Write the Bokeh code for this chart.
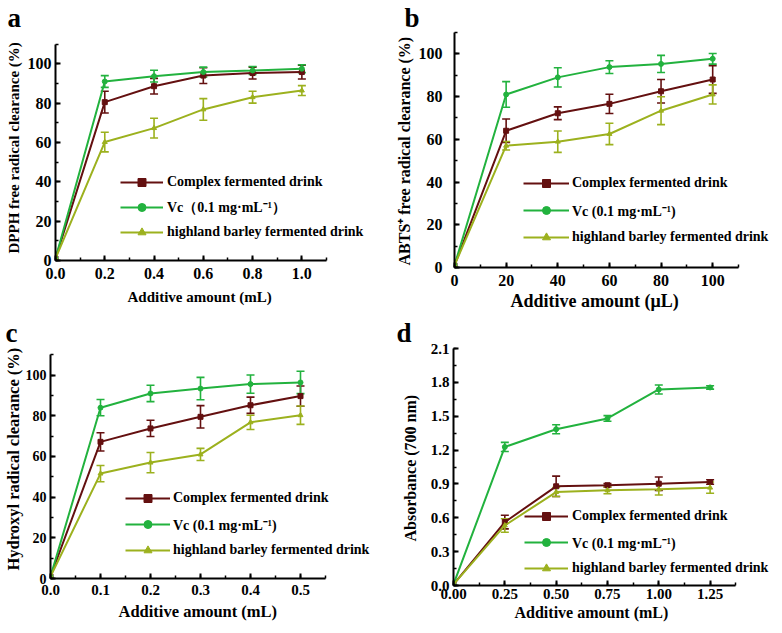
from bokeh.plotting import figure
from bokeh.models import (Range1d, SingleIntervalTicker, PrintfTickFormatter, Legend, LegendItem,
                          Title, Whisker, TeeHead, ColumnDataSource)
from bokeh.layouts import column, row
from bokeh.embed import file_html
from bokeh.resources import INLINE

FONT = "Liberation Serif"
C_COMPLEX = "#641010"
C_VC = "#22B23E"
C_BARLEY = "#9CB11E"

series_names = ["Complex fermented drink", "Vc (0.1 mg·mL⁻¹)", "highland barley fermented drink"]
series_names_a = ["Complex fermented drink", "Vc（0.1 mg·mL⁻¹）", "highland barley fermented drink"]

# ---- panel a: DPPH ----
a_x = [0.0, 0.2, 0.4, 0.6, 0.8, 1.0]
a_complex = [1.0, 80.5, 88.6, 94.0, 95.3, 95.8]
a_complex_err = [0.0, 5.5, 4.0, 4.0, 3.0, 3.5]
a_vc = [1.0, 91.0, 93.7, 95.8, 96.6, 97.5]
a_vc_err = [0.0, 3.0, 3.0, 2.5, 2.0, 2.0]
a_barley = [1.0, 60.2, 67.3, 76.8, 83.0, 86.4]
a_barley_err = [0.0, 5.0, 5.0, 5.5, 3.0, 2.5]

# ---- panel b: ABTS ----
b_x = [0, 20, 40, 60, 80, 100]
b_complex = [1.0, 64.0, 72.2, 76.6, 82.5, 88.0]
b_complex_err = [0.0, 5.5, 3.0, 4.5, 5.5, 6.5]
b_vc = [1.0, 81.0, 89.0, 93.8, 95.3, 97.7]
b_vc_err = [0.0, 6.0, 4.5, 3.0, 4.0, 2.5]
b_barley = [1.0, 57.0, 58.9, 62.5, 73.4, 81.0]
b_barley_err = [0.0, 2.0, 5.0, 5.0, 6.5, 4.5]

# ---- panel c: hydroxyl ----
c_x = [0.0, 0.1, 0.2, 0.3, 0.4, 0.5]
c_complex = [1.0, 67.2, 73.8, 79.5, 85.2, 89.7]
c_complex_err = [0.0, 4.5, 4.0, 5.5, 4.0, 5.0]
c_vc = [1.0, 84.0, 91.0, 93.4, 95.6, 96.4]
c_vc_err = [0.0, 4.0, 4.0, 5.5, 4.5, 5.5]
c_barley = [1.0, 51.6, 57.0, 61.0, 76.8, 80.3]
c_barley_err = [0.0, 4.0, 5.0, 3.0, 3.5, 4.5]

# ---- panel d: reducing power ----
d_x = [0.0, 0.25, 0.5, 0.75, 1.0, 1.25]
d_complex = [0.01, 0.562, 0.879, 0.888, 0.902, 0.917]
d_complex_err = [0.0, 0.06, 0.09, 0.015, 0.06, 0.02]
d_vc = [0.01, 1.228, 1.385, 1.48, 1.737, 1.755]
d_vc_err = [0.0, 0.04, 0.04, 0.025, 0.04, 0.015]
d_barley = [0.01, 0.532, 0.828, 0.843, 0.852, 0.867]
d_barley_err = [0.0, 0.06, 0.04, 0.03, 0.05, 0.05]


def make_panel(g, x, series, names, letter, xlabel, ylabel):
    W, H = g["size"]
    L, T, B = g["L"], g["T"], g["B"]
    p = figure(width=W, height=H, output_backend="svg", toolbar_location=None,
               x_range=Range1d(0, g["xend"]), y_range=Range1d(0, g["yend"]),
               min_border_left=L, min_border_right=0, min_border_top=T, min_border_bottom=B)
    if "frame_align" in p.properties():
        p.frame_align = False
    p.outline_line_color = None
    p.xgrid.visible = False
    p.ygrid.visible = False
    p.background_fill_color = "white"
    p.border_fill_color = "white"

    p.xaxis.ticker = SingleIntervalTicker(interval=g["xtick"], num_minor_ticks=2)
    p.yaxis.ticker = SingleIntervalTicker(interval=g["ytick"], num_minor_ticks=2)
    p.xaxis.formatter = PrintfTickFormatter(format=g["xfmt"])
    p.yaxis.formatter = PrintfTickFormatter(format=g["yfmt"])
    p.xaxis.bounds = g["xbounds"]
    p.yaxis.bounds = g["ybounds"]
    for ax in (p.xaxis[0], p.yaxis[0]):
        ax.axis_line_width = 2
        ax.axis_line_color = "black"
        ax.major_tick_line_width = 2
        ax.minor_tick_line_width = 1.5
        ax.major_tick_in = 5
        ax.major_tick_out = 0
        ax.minor_tick_in = 3
        ax.minor_tick_out = 0
        ax.major_label_text_font = FONT
        ax.major_label_text_font_style = "bold"
        ax.major_label_text_color = "black"
    p.xaxis.major_label_text_font_size = g["xtick_fs"]
    p.yaxis.major_label_text_font_size = g["ytick_fs"]
    p.xaxis.major_label_standoff = g["xtick_so"]
    p.yaxis.major_label_standoff = g["ytick_so"]

    # panel letter
    p.title.text = letter
    p.title.align = "left"
    p.title.offset = g["letter_off"]
    p.title.standoff = 0
    p.title.vertical_align = "bottom"
    p.title.text_font = FONT
    p.title.text_font_style = "bold"
    p.title.text_font_size = "27px"
    p.title.text_color = "black"

    # axis titles
    p.add_layout(Title(text=xlabel, align="left", offset=g["xlab_off"], standoff=g["xlab_so"],
                       vertical_align="bottom", text_font=FONT, text_font_style="bold",
                       text_font_size=g["xlab_fs"], text_color="black"), "below")
    p.add_layout(Title(text=ylabel, align="left", offset=g["ylab_off"], standoff=g["ylab_so"],
                       vertical_align="bottom", text_font=FONT, text_font_style="bold",
                       text_font_size=g["ylab_fs"], text_color="black"), "left")

    items = []
    for (ys, es, color, marker), name in zip(series, names):
        src = ColumnDataSource(dict(base=[xv for xv, e in zip(x, es) if e > 0],
                                    upper=[y + e for y, e in zip(ys, es) if e > 0],
                                    lower=[y - e for y, e in zip(ys, es) if e > 0]))
        w = Whisker(source=src, base="base", upper="upper", lower="lower", dimension="height",
                    line_color=color, line_width=1.6,
                    upper_head=TeeHead(size=8, line_color=color, line_width=1.6),
                    lower_head=TeeHead(size=8, line_color=color, line_width=1.6))
        p.add_layout(w)
        lr = p.line(x, ys, line_color=color, line_width=2)
        sr = p.scatter(x, ys, marker=marker, size=5, fill_color=color, line_color=color)
        items.append(LegendItem(label=name, renderers=[lr, sr]))

    lx, ly, gw, sp, lso = g["legend"]
    leg = Legend(items=items, location=(lx, ly), glyph_width=gw, glyph_height=20,
                 label_height=20, spacing=sp, label_standoff=lso, padding=0, margin=0,
                 border_line_color=None, background_fill_alpha=0,
                 label_text_font=FONT, label_text_font_style="bold",
                 label_text_font_size="14px", label_text_color="black")
    p.add_layout(leg)
    return p


def ser(c, ce, v, ve, b, be):
    return [(c, ce, C_COMPLEX, "square"), (v, ve, C_VC, "circle"), (b, be, C_BARLEY, "triangle")]


geo_a = dict(size=(391, 315), L=55, T=32, B=55, xend=1.3638, yend=115.9,
             xbounds=(0, 1.1), ybounds=(0, 110), xtick=0.2, ytick=20, xfmt="%.1f", yfmt="%d",
             xtick_fs="16px", ytick_fs="16px", xtick_so=7, ytick_so=4,
             letter_off=-48, xlab_off=72, xlab_so=11, xlab_fs="15px",
             ylab_off=7, ylab_so=5, ylab_fs="15px", legend=(65, 18, 43, 5, 4))
geo_b = dict(size=(383, 315), L=63, T=32, B=48, xend=123.94, yend=110.0,
             xbounds=(0, 110), ybounds=(0, 110), xtick=20, ytick=20, xfmt="%d", yfmt="%d",
             xtick_fs="16px", ytick_fs="16px", xtick_so=7, ytick_so=12,
             letter_off=-50, xlab_off=56, xlab_so=1, xlab_fs="18px",
             ylab_off=2, ylab_so=5, ylab_fs="16px", legend=(69, 20, 46, 7, 3))
geo_c = dict(size=(391, 310), L=50, T=32, B=47, xend=0.682, yend=113.6,
             xbounds=(0, 0.55), ybounds=(0, 110), xtick=0.1, ytick=20, xfmt="%.1f", yfmt="%d",
             xtick_fs="15px", ytick_fs="14px", xtick_so=6, ytick_so=4,
             letter_off=-45, xlab_off=68, xlab_so=4, xlab_fs="16.5px",
             ylab_off=8, ylab_so=0, ylab_fs="16.5px", legend=(75, 18, 45, 6, 3))
geo_d = dict(size=(383, 310), L=62, T=32, B=40, xend=1.5637, yend=2.109,
             xbounds=(0, 1.375), ybounds=(0, 2.1), xtick=0.25, ytick=0.3, xfmt="%.2f", yfmt="%.1f",
             xtick_fs="15px", ytick_fs="15px", xtick_so=3, ytick_so=4,
             letter_off=-57, xlab_off=61, xlab_so=0, xlab_fs="16px",
             ylab_off=44, ylab_so=17, ylab_fs="16px", legend=(71, 7, 44, 6, 4))

pa = make_panel(geo_a, a_x, ser(a_complex, a_complex_err, a_vc, a_vc_err, a_barley, a_barley_err),
                series_names_a, "a", "Additive amount (mL)", "DPPH free radical clearance (%)")
pb = make_panel(geo_b, b_x, ser(b_complex, b_complex_err, b_vc, b_vc_err, b_barley, b_barley_err),
                series_names, "b", "Additive amount (μL)", "ABTS⁺ free radical clearance (%)")
pc = make_panel(geo_c, c_x, ser(c_complex, c_complex_err, c_vc, c_vc_err, c_barley, c_barley_err),
                series_names, "c", "Additive amount (mL)", "Hydroxyl radical clearance (%)")
pd_ = make_panel(geo_d, d_x, ser(d_complex, d_complex_err, d_vc, d_vc_err, d_barley, d_barley_err),
                 series_names, "d", "Additive amount (mL)", "Absorbance (700 nm)")

layout = column(row(pa, pb), row(pc, pd_))
open("out.html", "w").write(file_html(layout, INLINE))
